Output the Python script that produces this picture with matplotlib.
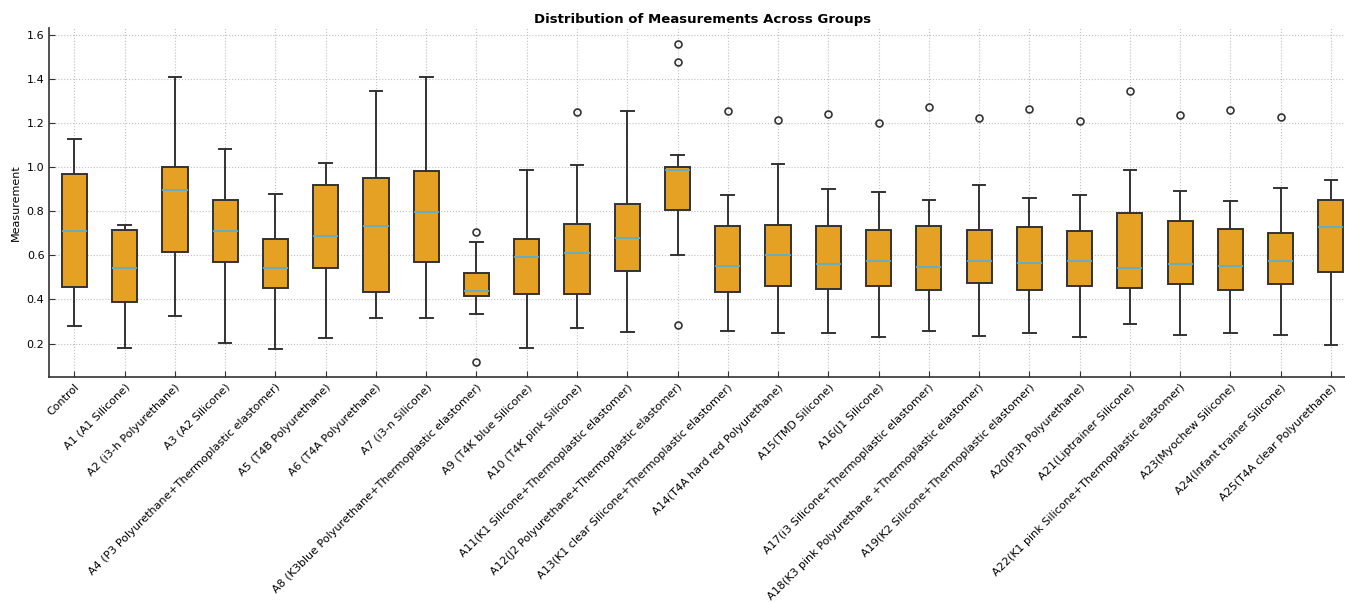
import matplotlib
matplotlib.use("Agg")
import matplotlib.pyplot as plt

groups = [
    "Control", "A1 (A1 Silicone)", "A2 (i3-h Polyurethane)", "A3 (A2 Silicone)",
    "A4 (P3 Polyurethane+Thermoplastic elastomer)", "A5 (T4B Polyurethane)",
    "A6 (T4A Polyurethane)", "A7 (i3-n Silicone)",
    "A8 (K3blue Polyurethane+Thermoplastic elastomer)", "A9 (T4K blue Silicone)",
    "A10 (T4K pink Silicone)", "A11(K1 Silicone+Thermoplastic elastomer)",
    "A12(J2 Polyurethane+Thermoplastic elastomer)",
    "A13(K1 clear Silicone+Thermoplastic elastomer)",
    "A14(T4A hard red Polyurethane)", "A15(TMD Silicone)", "A16(J1 Silicone)",
    "A17(i3 Silicone+Thermoplastic elastomer)",
    "A18(K3 pink Polyurethane +Thermoplastic elastomer)",
    "A19(K2 Silicone+Thermoplastic elastomer)", "A20(P3h Polyurethane)",
    "A21(Liptrainer Silicone)", "A22(K1 pink Silicone+Thermoplastic elastomer)",
    "A23(Myochew Silicone)", "A24(Infant trainer Silicone)",
    "A25(T4A clear Polyurethane)",
]

whisker_low = [0.281, 0.182, 0.324, 0.201, 0.177, 0.224, 0.315, 0.317, 0.332,
               0.180, 0.271, 0.251, 0.603, 0.256, 0.247, 0.250, 0.229, 0.255,
               0.235, 0.250, 0.230, 0.291, 0.241, 0.250, 0.239, 0.194]
q1 = [0.455, 0.390, 0.615, 0.571, 0.451, 0.544, 0.432, 0.571, 0.417, 0.426,
      0.424, 0.527, 0.806, 0.436, 0.459, 0.449, 0.462, 0.441, 0.476, 0.445,
      0.461, 0.451, 0.468, 0.441, 0.468, 0.524]
medians = [0.712, 0.544, 0.896, 0.709, 0.542, 0.686, 0.735, 0.795, 0.438,
           0.591, 0.611, 0.679, 0.986, 0.551, 0.603, 0.561, 0.576, 0.549,
           0.574, 0.564, 0.574, 0.542, 0.561, 0.550, 0.573, 0.730]
q3 = [0.971, 0.714, 1.000, 0.851, 0.674, 0.917, 0.951, 0.982, 0.520, 0.673,
      0.744, 0.833, 1.003, 0.732, 0.738, 0.735, 0.714, 0.732, 0.714, 0.727,
      0.712, 0.791, 0.756, 0.721, 0.700, 0.850]
whisker_high = [1.127, 0.740, 1.411, 1.082, 0.877, 1.018, 1.347, 1.411, 0.662,
                0.986, 1.011, 1.256, 1.056, 0.876, 1.014, 0.900, 0.886, 0.853,
                0.917, 0.859, 0.873, 0.986, 0.891, 0.845, 0.906, 0.944]
outliers = [[], [], [], [], [], [], [], [], [0.705, 0.117], [], [1.250], [],
            [1.561, 1.479, 0.286], [1.256], [1.212], [1.242], [1.199], [1.274],
            [1.221], [1.264], [1.210], [1.345], [1.235], [1.259], [1.227], []]

stats = []
for i, g in enumerate(groups):
    stats.append(dict(label=g, whislo=whisker_low[i], q1=q1[i], med=medians[i],
                      q3=q3[i], whishi=whisker_high[i], fliers=outliers[i]))

edge = "#333333"
fig = plt.figure(figsize=(13.45, 6.02), dpi=100)
ax = fig.add_axes([49.3 / 1345, 1 - 377.3 / 602, (1356 - 49.3) / 1345, (377.3 - 28.3) / 602])

ax.bxp(stats, patch_artist=True, widths=0.5,
       boxprops=dict(facecolor="#E5A124", edgecolor=edge, linewidth=1.4),
       medianprops=dict(color="#5BAFCF", linewidth=1.3),
       whiskerprops=dict(color=edge, linewidth=1.4),
       capprops=dict(color=edge, linewidth=1.4),
       flierprops=dict(marker="o", markerfacecolor="none", markeredgecolor=edge,
                       markersize=5, markeredgewidth=1.2))

ax.set_xlim(0.5, 26.5)
ax.set_ylim(0.047, 1.630)
ax.set_yticks([0.2, 0.4, 0.6, 0.8, 1.0, 1.2, 1.4, 1.6])
ax.set_xticklabels(groups, rotation=45, ha="right", rotation_mode="anchor", fontsize=8)
ax.tick_params(axis="both", direction="in", labelsize=8, color=edge, length=4)
ax.grid(True, linestyle=":", color="#c0c0c0", linewidth=0.8)
ax.set_axisbelow(True)
for s in ["top", "right"]:
    ax.spines[s].set_visible(False)
for s in ["left", "bottom"]:
    ax.spines[s].set_color(edge)
    ax.spines[s].set_linewidth(1.2)
ax.set_ylabel("Measurement", fontsize=8)
ax.set_title("Distribution of Measurements Across Groups", fontsize=9.5,
             fontweight="bold", pad=4)

fig.savefig("out.png", dpi=100)
